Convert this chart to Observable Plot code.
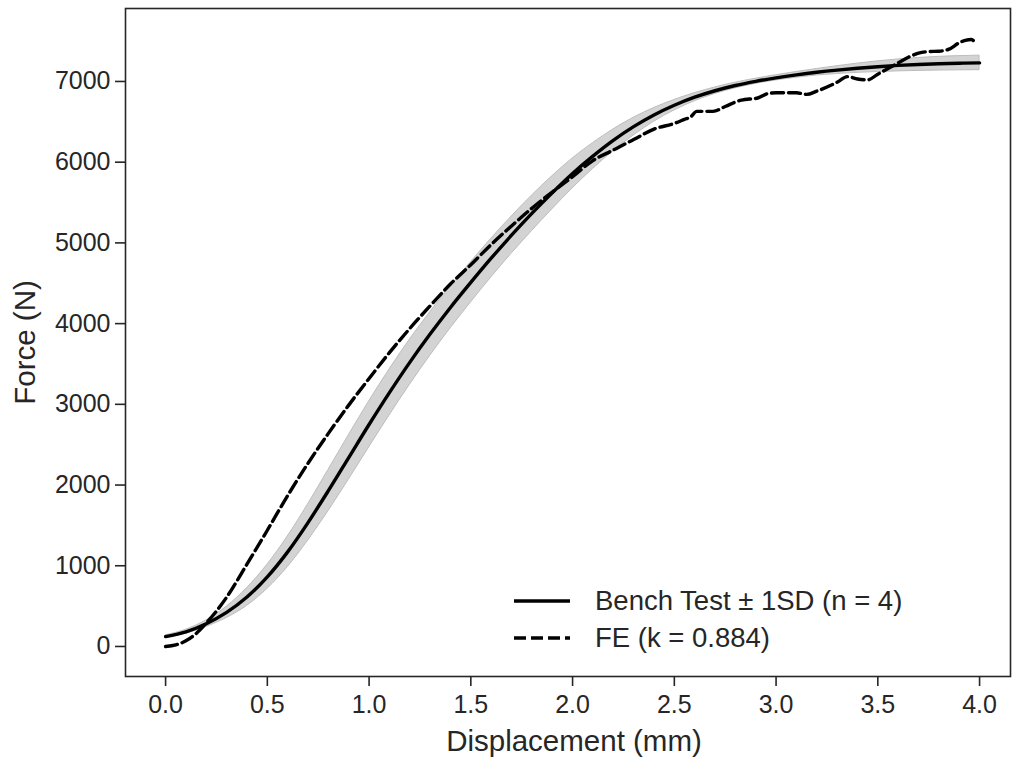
<!DOCTYPE html>
<html><head><meta charset="utf-8">
<script src="https://cdn.jsdelivr.net/npm/d3@7"></script>
<script src="https://cdn.jsdelivr.net/npm/@observablehq/plot@0.6"></script>
<style>
body{margin:0;background:#fff;font-family:"Liberation Sans",Arial,sans-serif;}
#wrap{position:relative;width:1012px;height:757px;}
.legend{position:absolute;left:513px;top:582px;font-size:27.5px;color:#262626;font-family:"Liberation Sans",Arial,sans-serif;}
.legend .row{display:flex;align-items:center;height:37px;}
.legend svg{margin-right:24px;display:block;}
</style></head><body><div id="wrap"></div>
<script>
// Bench test (mean ± 1SD, n = 4)
const benchDisp = [0.0,0.1,0.2,0.3,0.4,0.5,0.6,0.7,0.8,0.9,1.0,1.1,1.2,1.3,1.4,1.5,1.6,1.7,1.8,1.9,2.0,2.1,2.2,2.3,2.4,2.5,2.6,2.7,2.8,2.9,3.0,3.1,3.2,3.3,3.4,3.5,3.6,3.7,3.8,3.9,4.0];
const benchMean = [122,182,282,422,612,862,1172,1535,1930,2340,2750,3145,3520,3870,4200,4510,4810,5095,5365,5620,5860,6075,6270,6440,6585,6705,6805,6885,6950,7002,7045,7082,7114,7141,7164,7183,7199,7211,7220,7226,7230];
const benchSD = [15,25,40,70,110,150,190,225,255,275,285,285,280,270,260,250,240,230,220,205,185,160,135,110,85,65,50,40,35,32,32,35,40,48,57,66,74,80,85,88,90];
// FE model (k = 0.884)
const feDisp = [0.0,0.05,0.1,0.15,0.2,0.3,0.4,0.5,0.6,0.7,0.8,0.9,1.0,1.1,1.2,1.3,1.4,1.5,1.6,1.7,1.8,1.9,2.0,2.1,2.2,2.3,2.4,2.5,2.55,2.58,2.61,2.69,2.75,2.83,2.91,2.96,3.0,3.1,3.15,3.2,3.3,3.35,3.4,3.45,3.5,3.55,3.6,3.65,3.7,3.75,3.8,3.85,3.9,3.93,3.96,3.98];
const feForce = [0,20,70,160,290,610,1020,1440,1870,2270,2640,2990,3320,3640,3940,4220,4490,4730,4980,5210,5430,5630,5820,6020,6150,6280,6410,6480,6530,6560,6630,6630,6690,6770,6795,6850,6860,6860,6840,6880,6990,7060,7030,7020,7090,7160,7230,7300,7350,7370,7375,7400,7480,7510,7520,7470];
const xTicks = [0,0.5,1,1.5,2,2.5,3,3.5,4];
const yTicks = [0,1000,2000,3000,4000,5000,6000,7000];
const xLabel = "Displacement (mm)";
const yLabel = "Force (N)";
const legendLabels = ["Bench Test ± 1SD (n = 4)", "FE (k = 0.884)"];

const bench = benchDisp.map((d,i)=>({d, m:benchMean[i], lo:benchMean[i]-benchSD[i], hi:benchMean[i]+benchSD[i]}));
const fe = feDisp.map((d,i)=>({d, f:feForce[i]}));
const ink = "#262626";

const chart = Plot.plot({
  width:1012, height:757,
  marginLeft:125, marginTop:8, marginRight:2, marginBottom:81,
  style:{fontFamily:'"Liberation Sans",Arial,sans-serif', fontSize:"25px", color:ink, background:"#fff"},
  x:{domain:[-0.197,4.152], axis:null},
  y:{domain:[-372,7904], axis:null},
  marks:[
    Plot.areaY(bench,{x:"d", y1:"lo", y2:"hi", fill:"#d3d3d3", stroke:"#bdbdbd", strokeWidth:1, curve:"monotone-x"}),
    Plot.line(bench,{x:"d", y:"m", stroke:"#000", strokeWidth:3.4, curve:"monotone-x"}),
    Plot.line(fe,{x:"d", y:"f", stroke:"#000", strokeWidth:3.4, strokeDasharray:"12,5", curve:"monotone-x"}),
    Plot.frame({stroke:ink, strokeWidth:1.6}),
    Plot.axisX({ticks:xTicks, tickFormat:d3.format(".1f"), tickSize:10, tickPadding:9, stroke:ink, strokeWidth:1.6, fill:ink, fontSize:25, label:null}),
    Plot.axisY({ticks:yTicks, tickFormat:d3.format("d"), tickSize:10, tickPadding:5, stroke:ink, strokeWidth:1.6, fill:ink, fontSize:25, label:null}),
    Plot.text([xLabel],{text:d=>d, frameAnchor:"bottom", dy:65, dx:6, textAnchor:"middle", lineAnchor:"middle", fontSize:29.5, fill:ink}),
    Plot.text([yLabel],{text:d=>d, frameAnchor:"left", dx:-100, rotate:-90, textAnchor:"middle", lineAnchor:"middle", fontSize:29.5, fill:ink})
  ]
});
const wrap = document.getElementById("wrap");
wrap.appendChild(chart);

const legend = document.createElement("div");
legend.className = "legend";
const dashes = [null, "12,5"];
legendLabels.forEach((lab,i)=>{
  const row = document.createElement("div");
  row.className = "row";
  const s = d3.create("svg").attr("width",58).attr("height",10);
  s.append("line").attr("x1",1).attr("x2",57).attr("y1",5).attr("y2",5)
    .attr("stroke","#000").attr("stroke-width",3.4)
    .attr("stroke-dasharray",dashes[i]);
  row.appendChild(s.node());
  const t = document.createElement("span");
  t.textContent = lab;
  row.appendChild(t);
  legend.appendChild(row);
});
wrap.appendChild(legend);
</script></body></html>
